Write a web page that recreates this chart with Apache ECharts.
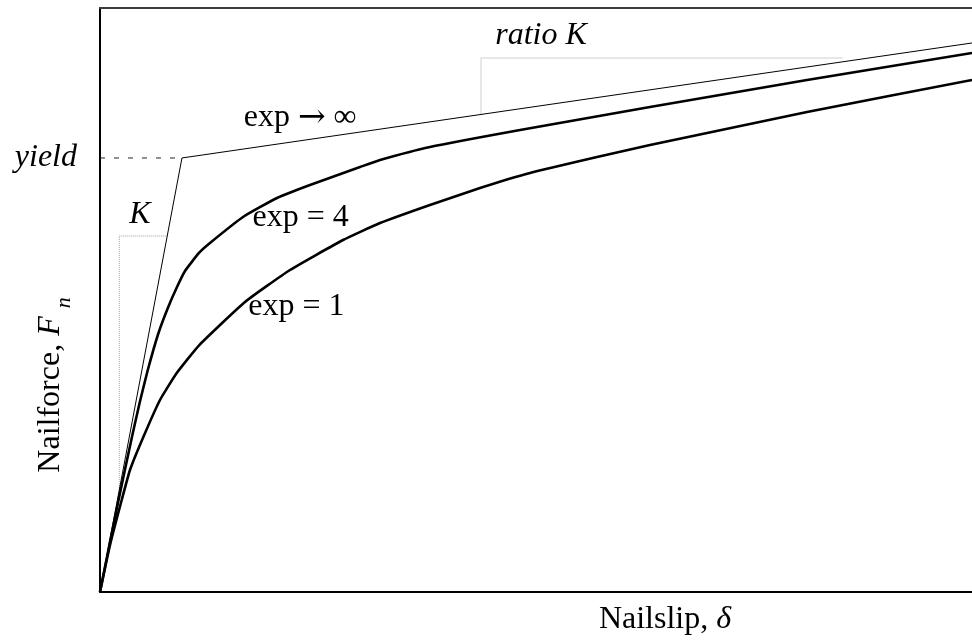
<!DOCTYPE html>
<html>
<head>
<meta charset="utf-8">
<script src="https://cdn.jsdelivr.net/npm/echarts@6/dist/echarts.min.js"></script>
<style>
  html, body { margin: 0; padding: 0; background: #fff; }
  #chart { width: 972px; height: 641px; }
</style>
</head>
<body>
<div id="chart"></div>
<script>
// Nail slip (delta) and nail force (F_n), arbitrary units on both axes
const slipExp4  = [0, 0.112, 0.220, 0.295, 0.379, 0.454, 0.545, 0.667, 0.778, 0.883, 0.975, 1.135, 1.261, 1.640, 2.030, 2.408, 2.982, 3.211, 3.784, 4.817, 6.307, 8.108, 10];
const forceExp4 = [0, 0.839, 1.627, 2.158, 2.740, 3.236, 3.784, 4.418, 4.863, 5.223, 5.497, 5.805, 5.976, 6.421, 6.747, 6.969, 7.277, 7.397, 7.620, 7.911, 8.305, 8.767, 9.229];

const slipExp1  = [0, 0.115, 0.249, 0.344, 0.497, 0.688, 0.880, 1.139, 1.663, 2.179, 2.787, 3.211, 3.784, 4.358, 4.931, 5.700, 6.307, 8.108, 10];
const forceExp1 = [0, 0.805, 1.575, 2.089, 2.654, 3.288, 3.750, 4.229, 4.966, 5.514, 6.027, 6.318, 6.627, 6.918, 7.175, 7.449, 7.654, 8.219, 8.767];

// Bilinear envelope (exp -> infinity): initial stiffness K up to yield, then ratio*K
const yieldSlip  = 0.940;
const yieldForce = 7.432;
const slipBilinear  = [0, yieldSlip, 10];
const forceBilinear = [0, yieldForce, 9.401];

// Slope triangles for K and ratio K
const slipKTri   = [0.221, 0.221, 0.772];
const forceKTri  = [1.747, 6.096, 6.096];
const slipRTri   = [4.369, 4.369, 8.52];
const forceRTri  = [8.176, 9.144, 9.144];

const axisMin = 0, axisMax = 10;

const SERIF = '"Liberation Serif", "Times New Roman", "DejaVu Serif", serif';
const ARROW_FONT = '"DejaVu Serif", "Liberation Serif", serif';

const zip = (xs, ys) => xs.map((x, i) => [x, ys[i]]);

// Text annotations placed in data coordinates
const notes = [
  { text: '{t|exp }{r|\u2192}{t| \u221e}', at: [2.294, 8.116] },
  { text: '{t|exp = 4}',                   at: [2.300, 6.404] },
  { text: '{t|exp = 1}',                   at: [2.253, 4.880] },
  { text: '{i|K}',                         at: [0.459, 6.455] },
  { text: '{i|ratio K}',                   at: [5.057, 9.521] }
];

const noteRich = {
  t: { fontFamily: SERIF, fontSize: 32, color: '#000' },
  i: { fontFamily: SERIF, fontSize: 32, color: '#000', fontStyle: 'italic' },
  r: { fontFamily: ARROW_FONT, fontSize: 33, color: '#000' }
};

const chart = echarts.init(document.getElementById('chart'), null, { renderer: 'canvas' });

const thinBlack = { color: '#000', width: 1 };
const thick = { color: '#000', width: 2.6 };

chart.setOption({
  animation: false,
  backgroundColor: '#fff',
  grid: { left: 100, right: 0, top: 8, bottom: 49, containLabel: false, outerBoundsMode: 'none' },
  xAxis: [
    {
      type: 'value', min: axisMin, max: axisMax,
      axisLine: { show: true, onZero: false, lineStyle: { color: '#000', width: 2 } },
      axisTick: { show: false }, axisLabel: { show: false }, splitLine: { show: false },
      name: '{a|Nailslip, }{d|\u03b4}',
      nameLocation: 'middle',
      nameGap: 12,
      nameTextStyle: {
        padding: [0, 0, 0, 258],
        rich: {
          a: { fontFamily: SERIF, fontSize: 32, color: '#000' },
          d: { fontFamily: SERIF, fontSize: 32, color: '#000', fontStyle: 'italic' }
        }
      }
    },
    {
      type: 'value', min: axisMin, max: axisMax, position: 'top',
      axisLine: { show: true, onZero: false, lineStyle: { color: '#3c3c3c', width: 2 } },
      axisTick: { show: false }, axisLabel: { show: false }, splitLine: { show: false }
    }
  ],
  yAxis: {
    type: 'value', min: axisMin, max: axisMax,
    axisLine: { show: true, onZero: false, lineStyle: { color: '#000', width: 2 } },
    axisTick: { show: false }, splitLine: { show: false },
    axisLabel: {
      show: true,
      customValues: [yieldForce],
      formatter: () => 'yield',
      fontFamily: SERIF, fontSize: 32, fontStyle: 'italic', color: '#000',
      margin: 23
    },
    name: '{a|Nailforce, }{f|F }{s|n}',
    nameLocation: 'middle',
    nameRotate: 90,
    nameGap: 7,
    nameMoveOverlap: false,
    nameTextStyle: {
      padding: [0, 170, 0, 0],
      rich: {
        a: { fontFamily: SERIF, fontSize: 32, color: '#000', lineHeight: 32, verticalAlign: 'top' },
        f: { fontFamily: SERIF, fontSize: 32, color: '#000', fontStyle: 'italic', lineHeight: 32, verticalAlign: 'top' },
        s: { fontFamily: SERIF, fontSize: 22, color: '#000', fontStyle: 'italic', lineHeight: 58, verticalAlign: 'middle' }
      }
    }
  },
  series: [
    {
      name: 'K triangle', type: 'line', symbol: 'none', silent: true,
      data: zip(slipKTri, forceKTri),
      lineStyle: { color: '#a0a0a0', width: 1, type: 'dotted' }
    },
    {
      name: 'ratio K triangle', type: 'line', symbol: 'none', silent: true,
      data: zip(slipRTri, forceRTri),
      lineStyle: { color: '#a0a0a0', width: 1, type: 'dotted' }
    },
    {
      name: 'yield level', type: 'line', symbol: 'none', silent: true,
      data: [[axisMin, yieldForce], [yieldSlip, yieldForce]],
      lineStyle: { color: '#222', width: 1, type: [5, 9] }
    },
    {
      name: 'exp \u2192 \u221e', type: 'line', symbol: 'none',
      data: zip(slipBilinear, forceBilinear),
      lineStyle: thinBlack
    },
    {
      name: 'exp = 4', type: 'line', symbol: 'none', smooth: 0.15,
      data: zip(slipExp4, forceExp4),
      lineStyle: thick
    },
    {
      name: 'exp = 1', type: 'line', symbol: 'none', smooth: 0.15,
      data: zip(slipExp1, forceExp1),
      lineStyle: thick
    },
    {
      name: 'notes', type: 'scatter', symbolSize: 0, silent: true,
      itemStyle: { opacity: 1 },
      data: notes.map(n => ({
        value: n.at,
        label: {
          show: true, position: 'inside', formatter: n.text,
          color: '#000', rich: noteRich
        }
      }))
    }
  ]
});
</script>
</body>
</html>
